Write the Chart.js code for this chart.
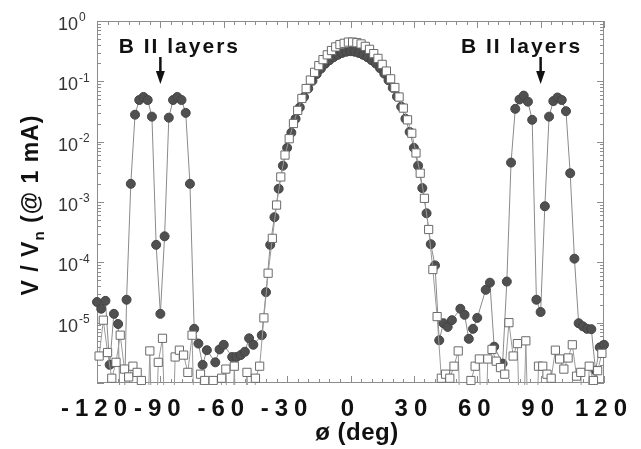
<!DOCTYPE html>
<html>
<head>
<meta charset="utf-8">
<title>V / Vn vs angle</title>
<script src="https://cdn.jsdelivr.net/npm/chart.js@4.4.1/dist/chart.umd.min.js"></script>
<style>
  html, body { margin: 0; padding: 0; background: #fff; }
</style>
</head>
<body>
<canvas id="chart-angle" width="641" height="449"></canvas>
<script>
const fontFamily = '"Liberation Sans", Arial, Helvetica, sans-serif'

// filled circles (even angles)
const circleAngles = [
  -120, -118, -116, -114, -112, -110, -108, -106, -104, -102, -100, -98, -96, -94,
  -92, -90, -88, -86, -84, -82, -80, -78, -76, -74, -72, -70, -68, -64, -62, -60,
  -56, -54, -52, -50, -48, -46, -42, -40, -38, -36, -34, -32, -30, -28, -26, -24,
  -22, -20, -18, -16, -14, -12, -10, -8, -6, -4, -2, 0, 2, 4, 6, 8, 10, 12, 14, 16,
  18, 20, 22, 24, 26, 28, 30, 32, 34, 36, 38, 40, 42, 44, 46, 48, 52, 54, 56, 58,
  60, 64, 66, 68, 72, 74, 76, 78, 80, 82, 84, 86, 88, 90, 92, 94, 96, 98, 100, 102,
  104, 106, 108, 110, 112, 114, 116, 118, 120
]
const circleValues = [
  2.2e-5, 1.7e-5, 2.3e-5, 2.0e-6, 1.4e-5, 9.5e-6, 1e-8, 2.4e-5, 2.0e-3, 2.8e-2, 4.9e-2, 5.5e-2, 4.9e-2, 2.6e-2,
  1.95e-4, 1.4e-5, 2.7e-4, 2.5e-2, 4.9e-2, 5.5e-2, 4.9e-2, 3.0e-2, 2.0e-3, 7.9e-6, 4.5e-6, 2.0e-6, 3.5e-6, 2.2e-6, 3.6e-6, 4.3e-6,
  2.7e-6, 2.7e-6, 2.9e-6, 3.3e-6, 5.5e-6, 4.3e-6, 6.2e-6, 3.2e-5, 1.95e-4, 5.6e-4, 1.66e-3, 4.0e-3, 7.9e-3, 1.41e-2, 2.4e-2, 3.7e-2,
  5.5e-2, 7.6e-2, 0.102, 0.132, 0.162, 0.195, 0.224, 0.251, 0.275, 0.295, 0.309, 0.316, 0.309, 0.295, 0.275, 0.251, 0.224, 0.197, 0.165, 0.134,
  0.104, 7.8e-2, 5.6e-2, 3.8e-2, 2.4e-2, 1.45e-2, 7.9e-3, 4.0e-3, 1.7e-3, 6.5e-4, 2.0e-4, 8.9e-5, 5.1e-6, 9.8e-6, 8.5e-6, 1.1e-5, 1.7e-5, 1.35e-5, 5.4e-6, 7.9e-6,
  1.2e-5, 3.5e-5, 4.6e-5, 4.0e-6, 2.1e-6, 4.8e-5, 4.5e-3, 3.5e-2, 5.0e-2, 5.8e-2, 4.6e-2, 2.3e-2, 2.4e-5, 1.5e-5, 8.5e-4, 2.6e-2, 4.7e-2, 5.4e-2, 4.9e-2, 3.2e-2,
  3.0e-3, 1.15e-4, 9.8e-6, 8.7e-6, 7.9e-6, 7.8e-6, 1.6e-6, 3.9e-6, 4.3e-6
]

// open squares (odd angles)
const squareAngles = [
  -119, -117, -115, -113, -111, -109, -107, -105, -103, -101, -99, -97, -95, -93, -91, -89,
  -87, -85, -83, -81, -79, -77, -75, -73, -71, -69, -67, -65, -63, -61, -59, -57,
  -55, -53, -51, -49, -47, -45, -43, -41, -39, -37, -35, -33, -31, -29, -27, -25,
  -23, -21, -19, -17, -15, -13, -11, -9, -7, -5, -3, -1, 1, 3, 5, 7,
  9, 11, 13, 15, 17, 19, 21, 23, 25, 27, 29, 31, 33, 35, 37, 39,
  41, 43, 45, 47, 49, 51, 53, 55, 57, 59, 61, 63, 65, 67, 69, 71,
  73, 75, 77, 79, 81, 83, 85, 87, 89, 91, 93, 95, 97, 99, 101, 103,
  105, 107, 109, 111, 113, 115, 117, 119
]
const squareValues = [
  2.8e-6, 1.1e-5, 3.2e-6, 1.2e-6, 2.2e-6, 6.2e-6, 1.7e-6, 1.26e-6, 1.9e-6, 1.5e-6, 1.1e-6, 1e-8, 3.4e-6, 1e-8, 2.2e-6, 5.5e-6,
  1e-8, 1e-8, 2.7e-6, 3.5e-6, 2.9e-6, 1.5e-6, 6.2e-6, 1e-8, 1.4e-6, 1.1e-6, 1e-8, 1.1e-6, 1e-8, 1.2e-6, 1.7e-6, 1e-8,
  1.9e-6, 1e-8, 1e-8, 1.5e-6, 1e-8, 1.2e-6, 1.9e-6, 1.2e-5, 6.6e-5, 2.5e-4, 8.9e-4, 2.6e-3, 6.0e-3, 1.12e-2, 2.0e-2, 3.3e-2,
  5.2e-2, 7.6e-2, 0.105, 0.141, 0.182, 0.229, 0.275, 0.324, 0.372, 0.407, 0.427, 0.447, 0.447, 0.437, 0.417, 0.380,
  0.339, 0.288, 0.240, 0.191, 0.148, 0.110, 7.9e-2, 5.5e-2, 3.6e-2, 2.3e-2, 1.38e-2, 6.5e-3, 3.0e-3, 1.15e-3, 3.5e-4, 7.6e-5,
  1.26e-5, 1.2e-6, 1.4e-6, 1.2e-6, 1.9e-6, 3.4e-6, 1e-8, 1e-8, 1.1e-6, 1.9e-6, 2.5e-6, 1e-8, 2.5e-6, 3.6e-6, 2.3e-6, 1.8e-6,
  1.4e-6, 1.0e-5, 2.8e-6, 4.5e-6, 1e-8, 5.0e-6, 1e-8, 1e-8, 1.9e-6, 1.9e-6, 1.4e-6, 1.2e-6, 3.5e-6, 2.5e-6, 1.7e-6, 2.6e-6,
  4.3e-6, 1.3e-6, 1.5e-6, 1e-8, 1.9e-6, 1.1e-6, 1.6e-6, 3.1e-6
]

const xMajorTicks = [-120, -90, -60, -30, 0, 30, 60, 90, 120]
const yDecades = [1, 1e-1, 1e-2, 1e-3, 1e-4, 1e-5, 1e-6]
const yExponents = ['0', '-1', '-2', '-3', '-4', '-5', '']

const layerLabel = 'B II layers'
const layerArrowAngles = [-90, 90]
const layerLabelAngles = [-81, 81]


function toPoints(angles, values) {
    var points = []
    for (var i = 0; i < angles.length; i++) {
        points.push({ x: angles[i], y: values[i] })
    }
    return points
}


// frame with inward ticks, the y labels with superscripts and the annotations
const framePlugin = {
    id: 'frame',
    beforeDatasetsDraw: function (chart) {
        var ctx = chart.ctx
        var a = chart.chartArea
        var xs = chart.scales.x
        var ys = chart.scales.y
        ctx.save()
        ctx.strokeStyle = '#8c8c8c'
        ctx.lineWidth = 1
        ctx.strokeRect(a.left + 0.5, a.top + 0.5, a.right - a.left - 1, a.bottom - a.top - 1)
        ctx.beginPath()
        xs.ticks.forEach(function (t) {
            var px = Math.round(xs.getPixelForValue(t.value)) + 0.5
            var len = xMajorTicks.indexOf(t.value) >= 0 ? 7 : 4
            ctx.moveTo(px, a.bottom); ctx.lineTo(px, a.bottom - len)
            ctx.moveTo(px, a.top); ctx.lineTo(px, a.top + len)
        })
        ys.ticks.forEach(function (t) {
            var py = Math.round(ys.getPixelForValue(t.value)) + 0.5
            var len = t.major ? 7 : 4
            ctx.moveTo(a.left, py); ctx.lineTo(a.left + len, py)
            ctx.moveTo(a.right, py); ctx.lineTo(a.right - len, py)
        })
        ctx.stroke()
        ctx.restore()
    },
    afterDatasetsDraw: function (chart) {
        // x tick labels (z: 1) are drawn after this, spaced out like the original
        chart.ctx.letterSpacing = '6px'
    },
    afterDraw: function (chart) {
        var ctx = chart.ctx
        var a = chart.chartArea
        var xs = chart.scales.x
        var ys = chart.scales.y
        ctx.save()
        ctx.letterSpacing = '0px'

        // y tick labels 10^n
        ctx.fillStyle = '#333'
        ctx.textBaseline = 'middle'
        yDecades.forEach(function (v, i) {
            if (!yExponents[i]) return
            var py = ys.getPixelForValue(v)
            ctx.font = '18px ' + fontFamily
            ctx.textAlign = 'right'
            ctx.fillText('10', a.left - 19, py + 4)
            ctx.font = '12px ' + fontFamily
            ctx.textAlign = 'left'
            ctx.fillText(yExponents[i], a.left - 18, py - 3)
        })

        // y title with subscript
        ctx.fillStyle = '#111'
        ctx.save()
        ctx.translate(30, 205)
        ctx.rotate(-Math.PI / 2)
        ctx.letterSpacing = '1px'
        ctx.textAlign = 'left'
        ctx.textBaseline = 'alphabetic'
        var parts = [
            { text: 'V / V', font: 'bold 23px ' + fontFamily, dy: 0 },
            { text: 'n', font: 'bold 15px ' + fontFamily, dy: 6 },
            { text: ' (@ 1 mA)', font: 'bold 23px ' + fontFamily, dy: 0 }
        ]
        var total = 0
        parts.forEach(function (p) { ctx.font = p.font; p.w = ctx.measureText(p.text).width; total += p.w })
        var x0 = -total / 2
        parts.forEach(function (p) {
            ctx.font = p.font
            ctx.fillText(p.text, x0, 8 + p.dy)
            x0 += p.w
        })
        ctx.restore()

        // x title
        ctx.font = 'bold 24px ' + fontFamily
        ctx.letterSpacing = '0.5px'
        ctx.textAlign = 'center'
        ctx.textBaseline = 'middle'
        ctx.fillText('ø (deg)', 357, 433)

        // "B II layers" with arrows
        ctx.strokeStyle = '#111'
        layerArrowAngles.forEach(function (ang, i) {
            var px = xs.getPixelForValue(ang)
            ctx.lineWidth = 2.5
            ctx.beginPath()
            ctx.moveTo(px, a.top + 36)
            ctx.lineTo(px, a.top + 52)
            ctx.stroke()
            ctx.beginPath()
            ctx.moveTo(px - 4.5, a.top + 50)
            ctx.lineTo(px + 4.5, a.top + 50)
            ctx.lineTo(px, a.top + 63)
            ctx.closePath()
            ctx.fill()

            ctx.font = 'bold 21px ' + fontFamily
            ctx.letterSpacing = '2px'
            ctx.textAlign = 'center'
            ctx.textBaseline = 'alphabetic'
            ctx.fillText(layerLabel, xs.getPixelForValue(layerLabelAngles[i]), a.top + 32)
        })
        ctx.restore()
        ctx.letterSpacing = '0px'
    }
}


function loadChart() {
    var ctx = document.getElementById('chart-angle')
    var data = {
        datasets: [{
            label: 'squares',
            data: toPoints(squareAngles, squareValues),
            showLine: true,
            borderColor: '#9a9a9a',
            borderWidth: 1,
            pointStyle: 'rect',
            pointRadius: 5.8,
            pointBackgroundColor: '#ffffff',
            pointBorderColor: '#6a6a6a',
            pointBorderWidth: 1,
            clip: { left: 10, top: 10, right: 10, bottom: 2 }
        }, {
            label: 'circles',
            data: toPoints(circleAngles, circleValues),
            showLine: true,
            borderColor: '#8a8a8a',
            borderWidth: 1,
            pointStyle: 'circle',
            pointRadius: 4.5,
            pointBackgroundColor: '#505050',
            pointBorderColor: '#444444',
            pointBorderWidth: 1,
            clip: { left: 10, top: 10, right: 10, bottom: 2 }
        }]
    }

    new Chart(ctx, {
        type: 'scatter',
        data: data,
        options: {
            responsive: false,
            animation: false,
            layout: { padding: { left: 0, right: 37, top: 21, bottom: 0 } },
            plugins: {
                legend: { display: false },
                tooltip: { enabled: false }
            },
            scales: {
                x: {
                    type: 'linear',
                    min: -120,
                    max: 120,
                    afterBuildTicks: function (scale) {
                        var ticks = []
                        for (var v = -120; v <= 120; v += 5) ticks.push({ value: v })
                        scale.ticks = ticks
                    },
                    afterFit: function (scale) { scale.height = 66 },
                    grid: { display: false, drawTicks: false },
                    border: { display: false },
                    ticks: {
                        z: 1,
                        autoSkip: false,
                        maxRotation: 0,
                        minRotation: 0,
                        padding: 14,
                        color: '#111',
                        font: { family: fontFamily, size: 24, weight: 'bold', lineHeight: 1 },
                        callback: function (value) {
                            return xMajorTicks.indexOf(value) >= 0 ? String(value) : ''
                        }
                    }
                },
                y: {
                    type: 'logarithmic',
                    min: 1e-6,
                    max: 1,
                    afterBuildTicks: function (scale) {
                        var ticks = []
                        for (var e = -6; e <= 0; e++) {
                            for (var m = 1; m <= 9; m++) {
                                var v = m * Math.pow(10, e)
                                if (v > 1) break
                                ticks.push({ value: v, major: m === 1 })
                            }
                        }
                        scale.ticks = ticks
                    },
                    afterFit: function (scale) { scale.width = 97 },
                    grid: { display: false, drawTicks: false },
                    border: { display: false },
                    ticks: { display: false }
                }
            }
        },
        plugins: [framePlugin]
    })
}

loadChart()
</script>
</body>
</html>
